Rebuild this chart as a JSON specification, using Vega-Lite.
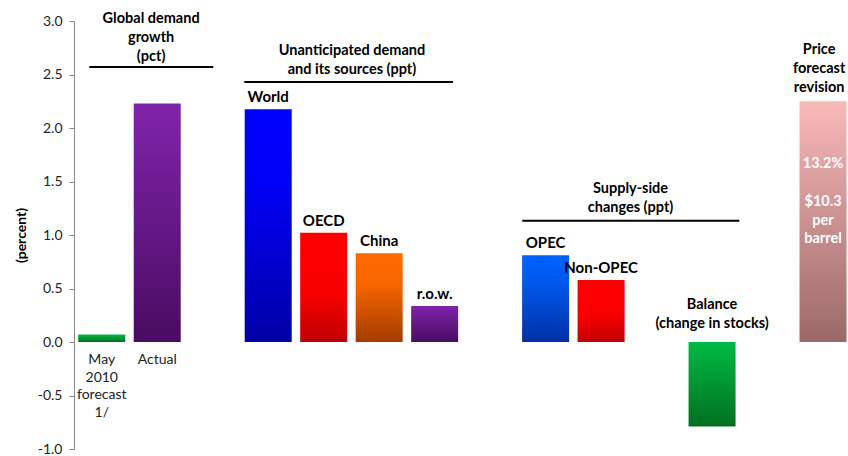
{
  "$schema": "https://vega.github.io/schema/vega-lite/v6.json",
  "width": 774,
  "height": 428,
  "autosize": "none",
  "padding": {"left": 74, "top": 21, "right": 0, "bottom": 7},
  "background": "white",
  "config": {"view": {"stroke": null}, "font": "Lato"},
  "datasets": {
    "bars": [
      {"item": "May 2010 forecast 1/", "pos": 0, "value": 0.07, "tone": "green"},
      {"item": "Actual", "pos": 1, "value": 2.23, "tone": "purple"},
      {"item": "World", "pos": 3, "value": 2.175, "tone": "blue"},
      {"item": "OECD", "pos": 4, "value": 1.02, "tone": "red"},
      {"item": "China", "pos": 5, "value": 0.83, "tone": "orange"},
      {"item": "r.o.w.", "pos": 6, "value": 0.336, "tone": "purple"},
      {"item": "OPEC", "pos": 8, "value": 0.81, "tone": "lightblue"},
      {"item": "Non-OPEC", "pos": 9, "value": 0.58, "tone": "red"},
      {"item": "Balance (change in stocks)", "pos": 11, "value": -0.79, "tone": "green"},
      {"item": "Price forecast revision", "pos": 13, "value": 2.25, "tone": "pink"}
    ],
    "headers": [
      {"lines": ["Global demand", "growth", "(pct)"], "x": 0.89, "y": 3.016},
      {"lines": ["Unanticipated demand", "and its sources (ppt)"], "x": 4.51, "y": 2.72},
      {"lines": ["Supply-side", "changes (ppt)"], "x": 9.53, "y": 1.43},
      {"lines": ["Price", "forecast", "revision"], "x": 12.93, "y": 2.726},
      {"lines": ["Balance", "(change in stocks)"], "x": 11.0, "y": 0.345}
    ],
    "inbar": [
      {"lines": ["13.2%"], "x": 13, "y": 1.66},
      {"lines": ["$10.3", "per", "barrel"], "x": 13, "y": 1.307}
    ],
    "catlabels": [
      {"lines": ["May", "2010", "forecast", "1/"], "x": 0, "y": -0.168},
      {"lines": ["Actual"], "x": 1, "y": -0.168}
    ],
    "brackets": [
      {"x": -0.225, "x2": 2.01, "y": 2.57},
      {"x": 2.57, "x2": 6.33, "y": 2.43},
      {"x": 7.58, "x2": 11.49, "y": 1.133}
    ]
  },
  "layer": [
    {
      "data": {"name": "bars"},
      "transform": [{"filter": "datum.tone === 'green'"}],
      "mark": {"type": "bar", "orient": "vertical", "width": 47,
        "color": {"gradient": "linear", "x1": 0, "y1": 0, "x2": 0, "y2": 1,
          "stops": [{"offset": 0, "color": "#00bb44"}, {"offset": 1, "color": "#007022"}]}},
      "encoding": {
        "x": {"field": "pos", "type": "quantitative", "scale": {"domain": [-0.5, 13.45], "nice": false, "zero": false, "padding": 0}, "axis": null},
        "y": {"field": "value", "type": "quantitative", "scale": {"domain": [-1, 3], "nice": false, "padding": 0},
          "axis": {"values": [-1, -0.5, 0, 0.5, 1, 1.5, 2, 2.5, 3], "format": ".1f", "labelExpr": "replace(datum.label, '\u2212', '-')", "grid": false,
            "domainColor": "#868686", "tickColor": "#868686", "tickSize": 5, "labelFontSize": 14,
            "labelColor": "#222222", "labelPadding": 7, "title": "(percent)", "titleFontSize": 14,
            "titleFontWeight": "bold", "titleColor": "#000000", "titlePadding": 9}},
        "y2": {"datum": 0}
      }
    },
    {
      "data": {"name": "bars"},
      "transform": [{"filter": "datum.tone === 'purple'"}],
      "mark": {"type": "bar", "orient": "vertical", "width": 47,
        "color": {"gradient": "linear", "x1": 0, "y1": 0, "x2": 0, "y2": 1,
          "stops": [{"offset": 0, "color": "#7f24aa"}, {"offset": 1, "color": "#4a0c62"}]}},
      "encoding": {
        "x": {"field": "pos", "type": "quantitative"},
        "y": {"field": "value", "type": "quantitative"},
        "y2": {"datum": 0}
      }
    },
    {
      "data": {"name": "bars"},
      "transform": [{"filter": "datum.tone === 'blue'"}],
      "mark": {"type": "bar", "orient": "vertical", "width": 47,
        "color": {"gradient": "linear", "x1": 0, "y1": 0, "x2": 0, "y2": 1,
          "stops": [{"offset": 0, "color": "#0000ff"}, {"offset": 0.3, "color": "#0000f8"}, {"offset": 1, "color": "#0000a6"}]}},
      "encoding": {
        "x": {"field": "pos", "type": "quantitative"},
        "y": {"field": "value", "type": "quantitative"},
        "y2": {"datum": 0}
      }
    },
    {
      "data": {"name": "bars"},
      "transform": [{"filter": "datum.tone === 'lightblue'"}],
      "mark": {"type": "bar", "orient": "vertical", "width": 47,
        "color": {"gradient": "linear", "x1": 0, "y1": 0, "x2": 0, "y2": 1,
          "stops": [{"offset": 0, "color": "#0062ff"}, {"offset": 0.3, "color": "#005aee"}, {"offset": 1, "color": "#0030a5"}]}},
      "encoding": {
        "x": {"field": "pos", "type": "quantitative"},
        "y": {"field": "value", "type": "quantitative"},
        "y2": {"datum": 0}
      }
    },
    {
      "data": {"name": "bars"},
      "transform": [{"filter": "datum.tone === 'red'"}],
      "mark": {"type": "bar", "orient": "vertical", "width": 47,
        "color": {"gradient": "linear", "x1": 0, "y1": 0, "x2": 0, "y2": 1,
          "stops": [{"offset": 0, "color": "#ff0000"}, {"offset": 0.55, "color": "#fa0000"}, {"offset": 1, "color": "#c00000"}]}},
      "encoding": {
        "x": {"field": "pos", "type": "quantitative"},
        "y": {"field": "value", "type": "quantitative"},
        "y2": {"datum": 0}
      }
    },
    {
      "data": {"name": "bars"},
      "transform": [{"filter": "datum.tone === 'orange'"}],
      "mark": {"type": "bar", "orient": "vertical", "width": 47,
        "color": {"gradient": "linear", "x1": 0, "y1": 0, "x2": 0, "y2": 1,
          "stops": [{"offset": 0, "color": "#ff6a00"}, {"offset": 0.35, "color": "#f86600"}, {"offset": 1, "color": "#a33c00"}]}},
      "encoding": {
        "x": {"field": "pos", "type": "quantitative"},
        "y": {"field": "value", "type": "quantitative"},
        "y2": {"datum": 0}
      }
    },
    {
      "data": {"name": "bars"},
      "transform": [{"filter": "datum.tone === 'pink'"}],
      "mark": {"type": "bar", "orient": "vertical", "width": 47,
        "color": {"gradient": "linear", "x1": 0, "y1": 0, "x2": 0, "y2": 1,
          "stops": [{"offset": 0, "color": "#f9b9b9"}, {"offset": 1, "color": "#9b6868"}]}},
      "encoding": {
        "x": {"field": "pos", "type": "quantitative"},
        "y": {"field": "value", "type": "quantitative"},
        "y2": {"datum": 0}
      }
    },
    {
      "mark": {"type": "rule", "color": "#868686", "strokeWidth": 1.5},
      "encoding": {"y": {"datum": 0}}
    },
    {
      "data": {"name": "brackets"},
      "mark": {"type": "rule", "color": "#000000", "strokeWidth": 2.2},
      "encoding": {
        "x": {"field": "x", "type": "quantitative"},
        "x2": {"field": "x2"},
        "y": {"field": "y", "type": "quantitative"}
      }
    },
    {
      "data": {"name": "bars"},
      "transform": [{"filter": "indexof(['World','OECD','China','r.o.w.','OPEC','Non-OPEC'], datum.item) >= 0"}],
      "mark": {"type": "text", "fontWeight": "bold", "fontSize": 15, "color": "#000000", "baseline": "alphabetic", "align": "center", "dy": -7},
      "encoding": {
        "x": {"field": "pos", "type": "quantitative"},
        "y": {"field": "value", "type": "quantitative"},
        "text": {"field": "item", "type": "nominal"}
      }
    },
    {
      "data": {"name": "headers"},
      "mark": {"type": "text", "fontWeight": "bold", "fontSize": 14.5, "color": "#000000", "baseline": "middle", "align": "center", "lineHeight": 19},
      "encoding": {
        "x": {"field": "x", "type": "quantitative"},
        "y": {"field": "y", "type": "quantitative"},
        "text": {"field": "lines", "type": "nominal"}
      }
    },
    {
      "data": {"name": "inbar"},
      "mark": {"type": "text", "fontWeight": "bold", "fontSize": 14.5, "color": "#ffffff", "baseline": "middle", "align": "center", "lineHeight": 18.5},
      "encoding": {
        "x": {"field": "x", "type": "quantitative"},
        "y": {"field": "y", "type": "quantitative"},
        "text": {"field": "lines", "type": "nominal"}
      }
    },
    {
      "data": {"name": "catlabels"},
      "mark": {"type": "text", "fontSize": 14, "color": "#222222", "baseline": "middle", "align": "center", "lineHeight": 17.7},
      "encoding": {
        "x": {"field": "x", "type": "quantitative"},
        "y": {"field": "y", "type": "quantitative"},
        "text": {"field": "lines", "type": "nominal"}
      }
    }
  ]
}
